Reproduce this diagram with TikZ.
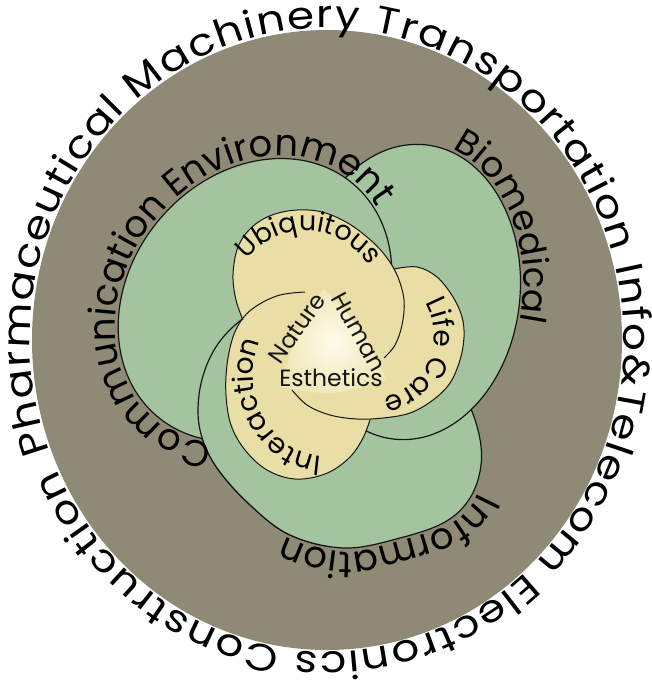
\documentclass[tikz,border=0pt]{standalone}
\usepackage{fontspec}
\setmainfont{Poppins}
\newfontfamily\outerfam[FakeStretch=1.15]{Poppins}
\usetikzlibrary{decorations.text}
\definecolor{ringcol}{HTML}{8E8A75}
\definecolor{lobecol}{HTML}{A4C4A0}
\definecolor{petalcol}{HTML}{E8DEA6}
\definecolor{corein}{HTML}{FFFBEA}
\definecolor{coreout}{HTML}{F0E7B8}
\definecolor{inkcol}{HTML}{151515}
\newcommand\fsOuter{\outerfam\fontsize{38}{38}\selectfont}
\newcommand\fsLobe{\fontsize{37}{37}\selectfont}
\newcommand\fsBio{\fontsize{35.5}{35.5}\selectfont}
\newcommand\fsInfo{\fontsize{37}{37}\selectfont}
\newcommand\fsPetal{\fontsize{28}{28}\selectfont}
\newcommand\fsUbi{\fontsize{27}{27}\selectfont}
\newcommand\fsCore{\fontsize{23.5}{23.5}\selectfont}
\tikzset{
  lobe/.style={fill=lobecol, draw=inkcol, line width=1.2pt},
  petaledge/.style={draw=inkcol, line width=1pt},
  coretext/.style={font=\fsCore, text=inkcol, inner sep=0pt},
}
\begin{document}
\begin{tikzpicture}[x=1pt,y=-1pt]
\useasboundingbox (0,0) rectangle (651,685);
\fill[white] (0,0) rectangle (651,685);
\fill[ringcol] (327,340) ellipse [x radius=295, y radius=310];
% outer ring text
\path[decorate, decoration={text along path, text align=fit to path, text={|\fsOuter|Pharmaceutical Machinery Transportation Info{\&}Telecom Electronics Construction}}]
  ([shift={(159:297 and 312)}]327,340) arc[start angle=159, end angle=515.5, x radius=297, y radius=312];
% green lobes
\draw[lobe] plot[smooth cycle, tension=0.6] coordinates {(290,300) (370,305) (430,340) (462,390) (478,430) (481,465) (470,498) (445,522) (400,538) (345,548) (290,535) (248,503) (215,465) (200,430) (199,395) (208,362) (225,335) (252,313)};
\draw[lobe, rotate around={-6:(410,292)}] (410,292) ellipse [x radius=110, y radius=148];
\draw[lobe, rotate around={50:(255,300)}] (255,300) ellipse [x radius=152, y radius=125];
\begin{scope}
\clip (0,0) rectangle (330,685);
\draw[lobe] plot[smooth cycle, tension=0.6] coordinates {(290,300) (370,305) (430,340) (462,390) (478,430) (481,465) (470,498) (445,522) (400,538) (345,548) (290,535) (248,503) (215,465) (200,430) (199,395) (208,362) (225,335) (252,313)};
\end{scope}
% green lobe texts
\begin{scope}[shift={(255,300)}, rotate=50]
\path[decorate, decoration={text along path, text align=center, text={|\fsLobe|Communication Environment}}]
  (150:155 and 128) arc[start angle=150, end angle=378, x radius=155, y radius=128];
\end{scope}
\begin{scope}[shift={(410,292)}, rotate=-6]
\path[decorate, decoration={text along path, text align=center, text={|\fsBio|Biomedical}}]
  (274:113 and 151) arc[start angle=274, end angle=374, x radius=113, y radius=151];
\end{scope}
\path[decorate, decoration={text along path, text={|\fsInfo|Information}}]
  plot[smooth, tension=0.6] coordinates {(478,492) (468,509) (447,526) (402,541) (345,552) (287,537) (245,504) (214,468) (199,432)};
% yellow petals
\fill[petalcol] plot[smooth cycle, tension=0.6] coordinates {(236,300) (233,275) (238,247) (252,227) (272,215) (297,210) (322,212) (346,222) (367,237) (384,254) (397,275) (404,300) (402,325) (394,348) (378,366) (355,378) (325,382) (295,377) (270,362) (252,342) (243,320)};
\fill[petalcol] plot[smooth cycle, tension=0.6] coordinates {(395,269) (417,267) (437,277) (453,297) (462,317) (464,337) (460,360) (450,383) (433,400) (410,413) (383,418) (357,419) (330,415) (307,405) (292,390) (285,365) (292,335) (310,308) (335,288) (365,274)};
\fill[petalcol] plot[smooth cycle, tension=0.6] coordinates {(323,293) (350,305) (372,330) (384,365) (380,400) (370,420) (362,440) (348,459) (325,474) (295,479) (267,470) (245,450) (231,425) (226,395) (227,365) (233,337) (243,318) (258,305) (280,295) (300,292)};
\draw[petaledge] plot[smooth, tension=0.6] coordinates {(243,320) (236,300) (233,275) (238,247) (252,227) (272,215) (297,210) (322,212) (346,222) (367,237) (384,254) (397,275) (404,300) (402,325) (395,345) (384,358)};
\draw[petaledge] plot[smooth, tension=0.6] coordinates {(394,269) (417,267) (437,277) (453,297) (462,317) (464,337) (460,360) (450,383) (433,400) (410,413) (383,418) (357,419) (330,415) (307,405) (292,390)};
\draw[petaledge] plot[smooth, tension=0.6] coordinates {(305,292) (280,295) (258,305) (243,318) (233,337) (227,365) (226,395) (231,425) (245,450) (267,470) (295,479) (325,474) (348,459) (362,440) (370,420)};
% pale core
\shade[inner color=corein, outer color=coreout] (323,288) .. controls (296,334) .. (280,387) .. controls (333,396) .. (387,380) .. controls (362,328) .. (323,288) -- cycle;
% petal texts
\path[decorate, decoration={text along path, text align=center, text={|\fsUbi|Ubiquitous}}]
  ([shift={(205:75)}]306,306) arc[start angle=205, end angle=340, radius=75];
\path[decorate, decoration={text along path, text align=center, text={|\fsPetal|Life Care}}]
  ([shift={(318:64)}]370,335) arc[start angle=318, end angle=450, radius=64];
\path[decorate, decoration={text along path, text align=center, text={|\fsPetal|Interaction}}]
  ([shift={(72:72 and 81)}]325,375) arc[start angle=72, end angle=224, x radius=72, y radius=81];
% core texts
\node[coretext, rotate=55] (nature) at (297,328) {Nature};
\node[coretext, rotate=-61] (human) at (359,332) {Human};
\node[coretext] (esth) at (331,378) {Esthetics};
\end{tikzpicture}
\end{document}
